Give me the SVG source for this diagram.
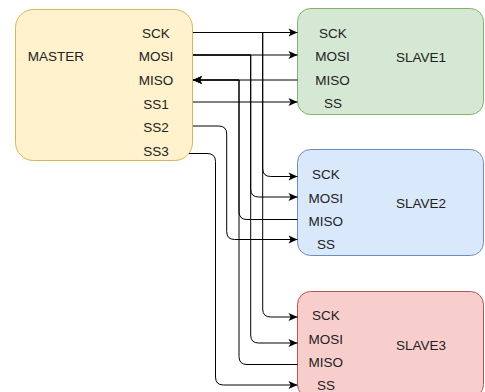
<svg xmlns="http://www.w3.org/2000/svg" width="485" height="392" viewBox="0 0 485 392">
<defs>
<marker id="arr" markerUnits="userSpaceOnUse" markerWidth="10" markerHeight="9" refX="9" refY="4" orient="auto" overflow="visible">
<path d="M0,0 L9,4 L0,8 L2.2,4 Z" fill="#000"/>
</marker>
<style>
text{font-family:"Liberation Sans",Arial,sans-serif;font-size:13.5px;fill:#222;text-anchor:middle}
.e{fill:none;stroke:#000;stroke-width:1}
.a{marker-end:url(#arr)}
</style>
</defs>
<rect width="485" height="392" fill="#fff"/>
<g id="master">
<rect x="15.5" y="9.5" width="177" height="151" rx="18" fill="#fff2cc" stroke="#d6b656"/>
<text x="56" y="61">MASTER</text>
<text x="156" y="37.5">SCK</text>
<text x="156" y="61">MOSI</text>
<text x="156" y="84.5">MISO</text>
<text x="156" y="108.5">SS1</text>
<text x="156" y="132">SS2</text>
<text x="156" y="155.5">SS3</text>
</g>
<g id="slave1">
<rect x="297.5" y="8.5" width="186" height="106" rx="13" fill="#d5e8d4" stroke="#82b366"/>
<text x="333" y="37.5">SCK</text>
<text x="332.5" y="61">MOSI</text>
<text x="332.5" y="84.5">MISO</text>
<text x="333" y="108">SS</text>
<text x="421" y="61.5">SLAVE1</text>
</g>
<g id="slave2">
<rect x="297.5" y="149.5" width="186" height="106" rx="13" fill="#dae8fc" stroke="#6c8ebf"/>
<text x="326" y="179">SCK</text>
<text x="325.7" y="202.5">MOSI</text>
<text x="325.8" y="226">MISO</text>
<text x="326" y="249">SS</text>
<text x="421" y="208.3">SLAVE2</text>
</g>
<g id="slave3">
<rect x="297.5" y="291.5" width="186" height="106" rx="13" fill="#f8cecc" stroke="#b85450"/>
<text x="326" y="320">SCK</text>
<text x="325.7" y="344">MOSI</text>
<text x="325.8" y="366.5">MISO</text>
<text x="326" y="390">SS</text>
<text x="421" y="350">SLAVE3</text>
</g>
<g id="connectors">
<path class="e a" d="M193,32.5 H297.5"/>
<path class="e a" d="M193,32.5 H262.7 V168.5 Q262.7,176.5 270.7,176.5 H297.5"/>
<path class="e a" d="M193,32.5 H262.7 V309 Q262.7,317 270.7,317 H297.5"/>
<path class="e a" d="M193,55 H297.5"/>
<path class="e a" d="M193,55 H250.7 V189 Q250.7,197 258.7,197 H297.5"/>
<path class="e a" d="M193,55 H250.7 V335 Q250.7,343 258.7,343 H297.5"/>
<path class="e a" d="M297.5,80 H193"/>
<path class="e a" d="M297.5,219.5 H247 Q239,219.5 239,211.5 V80 H193"/>
<path class="e a" d="M297.5,364.5 H247 Q239,364.5 239,356.5 V80 H193"/>
<path class="e a" d="M193,102 H297.5"/>
<path class="e a" d="M193,126 H218.7 Q226.7,126 226.7,134 V231.5 Q226.7,239.5 234.7,239.5 H297.5"/>
<path class="e a" d="M189,153.5 H207 Q215.5,153.5 215.5,161.5 V377 Q215.5,385 223.5,385 H297.5"/>
</g>
</svg>
